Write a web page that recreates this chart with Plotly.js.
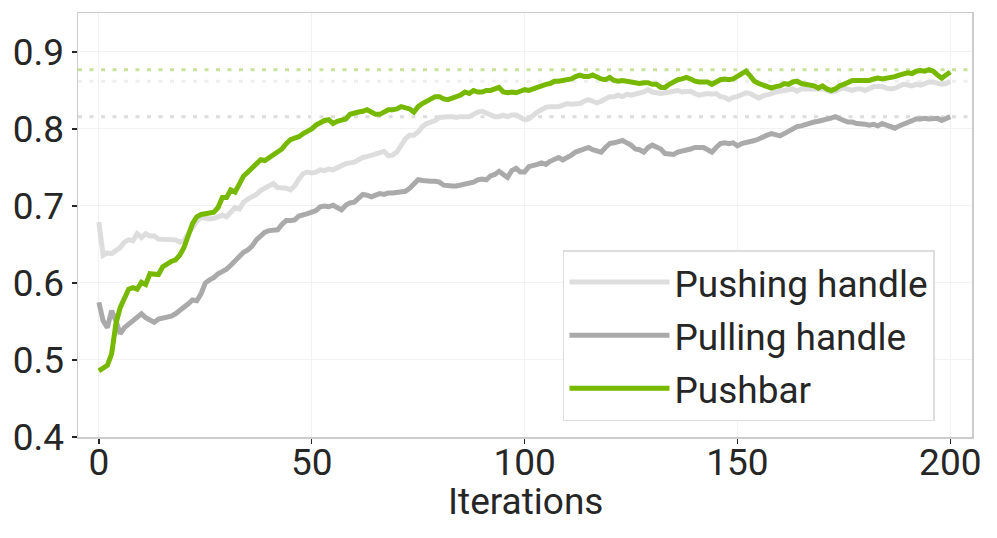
<!DOCTYPE html>
<html>
<head>
<meta charset="utf-8">
<script src="https://cdn.plot.ly/plotly-3.0.1.min.js"></script>
<style>
  html, body { margin: 0; padding: 0; background: #ffffff; }
  #chart { width: 997px; height: 538px; }
</style>
</head>
<body>
<div id="chart"></div>
<script>
// iterations 0..200
const iterations = Array.from({ length: 201 }, (_, i) => i);

const pushingHandle = [
  0.679, 0.636, 0.639, 0.638, 0.642, 0.646, 0.653, 0.656, 0.655, 0.664, 0.659, 0.664, 0.661, 0.661, 0.657, 0.657, 0.657, 0.657, 0.656, 0.653,
  0.655, 0.664, 0.672, 0.680, 0.685, 0.684, 0.683, 0.684, 0.686, 0.688, 0.686, 0.692, 0.698, 0.696, 0.705, 0.709, 0.712, 0.715, 0.720, 0.723,
  0.726, 0.729, 0.724, 0.724, 0.723, 0.721, 0.726, 0.735, 0.742, 0.744, 0.743,
  0.744, 0.747, 0.746, 0.748, 0.747, 0.750, 0.752, 0.755, 0.756, 0.757, 0.760, 0.763, 0.764, 0.766, 0.768, 0.770, 0.771, 0.765, 0.766, 0.770,
  0.779, 0.787, 0.792, 0.792, 0.796, 0.803, 0.807, 0.809, 0.811, 0.815, 0.816, 0.816, 0.816, 0.815, 0.816, 0.816, 0.816, 0.819, 0.822, 0.823,
  0.821, 0.818, 0.816, 0.816, 0.818, 0.816, 0.818, 0.818, 0.815, 0.812,
  0.813, 0.818, 0.822, 0.825, 0.828, 0.829, 0.829, 0.829, 0.831, 0.833, 0.832, 0.833, 0.833, 0.836, 0.838, 0.836, 0.834, 0.836, 0.839, 0.842,
  0.842, 0.844, 0.842, 0.845, 0.844, 0.845, 0.846, 0.848, 0.851, 0.848, 0.847, 0.846, 0.847, 0.848, 0.849, 0.850, 0.848, 0.849, 0.849, 0.846,
  0.844, 0.845, 0.846, 0.845, 0.846, 0.842, 0.841, 0.838, 0.841, 0.842,
  0.844, 0.847, 0.846, 0.843, 0.840, 0.843, 0.844, 0.846, 0.848, 0.849, 0.850, 0.852, 0.852, 0.849, 0.852, 0.852, 0.852, 0.852, 0.853, 0.852,
  0.850, 0.848, 0.849, 0.852, 0.853, 0.852, 0.850, 0.852, 0.852, 0.850, 0.852, 0.855, 0.855, 0.855, 0.853, 0.852, 0.853, 0.856, 0.858, 0.857,
  0.856, 0.858, 0.857, 0.859, 0.861, 0.861, 0.860, 0.858, 0.859, 0.862,
];

const pullingHandle = [
  0.575, 0.551, 0.542, 0.564, 0.551, 0.534, 0.542, 0.547, 0.552, 0.556, 0.560, 0.555, 0.551, 0.549, 0.553, 0.554, 0.555, 0.557, 0.560, 0.564,
  0.568, 0.573, 0.578, 0.577, 0.586, 0.600, 0.604, 0.607, 0.612, 0.615, 0.618, 0.623, 0.629, 0.635, 0.640, 0.643, 0.648, 0.656, 0.661, 0.666,
  0.668, 0.668, 0.669, 0.676, 0.681, 0.681, 0.682, 0.687, 0.688, 0.690, 0.692,
  0.694, 0.699, 0.700, 0.699, 0.701, 0.698, 0.695, 0.701, 0.704, 0.705, 0.710, 0.715, 0.714, 0.712, 0.714, 0.716, 0.715, 0.717, 0.717, 0.718,
  0.718, 0.719, 0.723, 0.729, 0.734, 0.733, 0.732, 0.732, 0.732, 0.731, 0.727, 0.726, 0.726, 0.726, 0.727, 0.729, 0.730, 0.731, 0.734, 0.735,
  0.734, 0.739, 0.741, 0.745, 0.741, 0.737, 0.746, 0.749, 0.744, 0.744,
  0.751, 0.752, 0.754, 0.756, 0.754, 0.758, 0.761, 0.763, 0.760, 0.764, 0.766, 0.770, 0.772, 0.774, 0.776, 0.773, 0.771, 0.770, 0.776, 0.781,
  0.782, 0.784, 0.785, 0.782, 0.779, 0.774, 0.773, 0.770, 0.776, 0.779, 0.777, 0.774, 0.768, 0.767, 0.767, 0.770, 0.771, 0.773, 0.774, 0.776,
  0.776, 0.776, 0.773, 0.770, 0.776, 0.781, 0.782, 0.781, 0.782, 0.778,
  0.781, 0.782, 0.784, 0.785, 0.787, 0.790, 0.792, 0.794, 0.793, 0.791, 0.794, 0.797, 0.800, 0.803, 0.804, 0.806, 0.807, 0.809, 0.810, 0.811,
  0.813, 0.814, 0.816, 0.813, 0.811, 0.809, 0.809, 0.807, 0.807, 0.806, 0.805, 0.806, 0.804, 0.807, 0.805, 0.803, 0.801, 0.804, 0.806, 0.809,
  0.810, 0.813, 0.813, 0.814, 0.813, 0.813, 0.814, 0.811, 0.814, 0.816,
];

const pushbar = [
  0.486, 0.490, 0.493, 0.508, 0.547, 0.568, 0.581, 0.592, 0.594, 0.592, 0.601, 0.598, 0.612, 0.612, 0.611, 0.621, 0.625, 0.628, 0.630, 0.636,
  0.646, 0.664, 0.677, 0.686, 0.689, 0.690, 0.691, 0.692, 0.698, 0.711, 0.711, 0.721, 0.718, 0.729, 0.739, 0.744, 0.749, 0.755, 0.760, 0.759,
  0.763, 0.765, 0.770, 0.774, 0.781, 0.786, 0.788, 0.790, 0.794, 0.797, 0.800,
  0.805, 0.809, 0.811, 0.812, 0.807, 0.810, 0.812, 0.813, 0.819, 0.821, 0.822, 0.823, 0.825, 0.822, 0.819, 0.819, 0.823, 0.825, 0.825, 0.826,
  0.829, 0.828, 0.826, 0.822, 0.829, 0.833, 0.836, 0.839, 0.842, 0.842, 0.839, 0.838, 0.840, 0.842, 0.844, 0.848, 0.846, 0.850, 0.848, 0.848,
  0.850, 0.850, 0.852, 0.854, 0.848, 0.847, 0.848, 0.847, 0.849, 0.851,
  0.850, 0.852, 0.855, 0.857, 0.858, 0.859, 0.862, 0.862, 0.863, 0.864, 0.865, 0.868, 0.870, 0.868, 0.868, 0.870, 0.867, 0.865, 0.864, 0.867,
  0.863, 0.862, 0.863, 0.862, 0.861, 0.861, 0.859, 0.860, 0.860, 0.858, 0.858, 0.854, 0.854, 0.858, 0.861, 0.864, 0.865, 0.867, 0.865, 0.862,
  0.861, 0.861, 0.861, 0.858, 0.861, 0.864, 0.865, 0.864, 0.865, 0.868,
  0.872, 0.875, 0.869, 0.862, 0.859, 0.857, 0.855, 0.853, 0.855, 0.856, 0.859, 0.858, 0.861, 0.862, 0.859, 0.858, 0.857, 0.856, 0.853, 0.856,
  0.852, 0.850, 0.852, 0.856, 0.858, 0.861, 0.863, 0.863, 0.863, 0.862, 0.863, 0.865, 0.866, 0.865, 0.866, 0.866, 0.868, 0.870, 0.872, 0.873,
  0.872, 0.875, 0.876, 0.875, 0.877, 0.875, 0.870, 0.866, 0.870, 0.874,
];

const xTicks = [0, 50, 100, 150, 200];
const yTicks = [0.4, 0.5, 0.6, 0.7, 0.8, 0.9];

const series = [
  { name: "Pushing handle", y: pushingHandle, color: "#dddddd", dot: "#eeeeee" },
  { name: "Pulling handle", y: pullingHandle, color: "#aaaaaa", dot: "#dcdcdc" },
  { name: "Pushbar", y: pushbar, color: "#76b900", dot: "#c8e399" },
];

const FONT = 'Roboto, "Noto Sans", "DejaVu Sans", sans-serif';
const FS = 37;

const traces = series.map((s, i) => ({
  x: iterations,
  y: s.y,
  type: "scatter",
  mode: "lines",
  name: s.name,
  legendgroup: "g" + i,
  line: { color: s.color, width: 5 },
}));

// best value of each series, drawn as a dotted reference line
const shapes = series.map((s) => {
  const best = Math.max(...s.y);
  return {
    type: "line",
    xref: "paper",
    x0: 0,
    x1: 1,
    yref: "y",
    y0: best,
    y1: best,
    layer: "below",
    line: { color: s.dot, width: 3, dash: "4px,7.5px" },
  };
});

const axisCommon = {
  ticks: "outside",
  ticklen: 5,
  tickwidth: 1.5,
  tickcolor: "#262626",
  showgrid: true,
  gridcolor: "#f2f2f2",
  gridwidth: 1,
  zeroline: false,
  showline: true,
  linecolor: "#cccccc",
  linewidth: 1.5,
  mirror: true,
  tickfont: { size: FS },
};

const layout = {
  width: 997,
  height: 538,
  paper_bgcolor: "#ffffff",
  plot_bgcolor: "#ffffff",
  font: { family: FONT, color: "#262626", size: FS },
  margin: { l: 78, r: 25, t: 13, b: 101 },
  showlegend: true,
  xaxis: {
    ...axisCommon,
    range: [-4.9, 205.1],
    tickvals: xTicks,
    ticklabelstandoff: -13,
  },
  yaxis: {
    ...axisCommon,
    range: [0.4, 0.9506],
    tickvals: yTicks,
    ticktext: yTicks.map((v) => v.toFixed(1)),
  },
  // x-axis title, placed as an annotation so it can sit close to the tick labels
  annotations: [
    {
      text: "Iterations",
      xref: "paper",
      yref: "paper",
      x: 0.501,
      y: -0.151,
      xanchor: "center",
      yanchor: "middle",
      showarrow: false,
      font: { size: FS },
    },
  ],
  shapes,
  legend: {
    x: 0.5425,
    y: 0.441,
    xanchor: "left",
    yanchor: "top",
    bgcolor: "#ffffff",
    bordercolor: "#dddddd",
    borderwidth: 1.5,
    font: { size: FS },
    itemwidth: 100,
    traceorder: "grouped",
    tracegroupgap: 2,
  },
};

Plotly.newPlot("chart", traces, layout, { displayModeBar: false, staticPlot: true });
</script>
</body>
</html>
